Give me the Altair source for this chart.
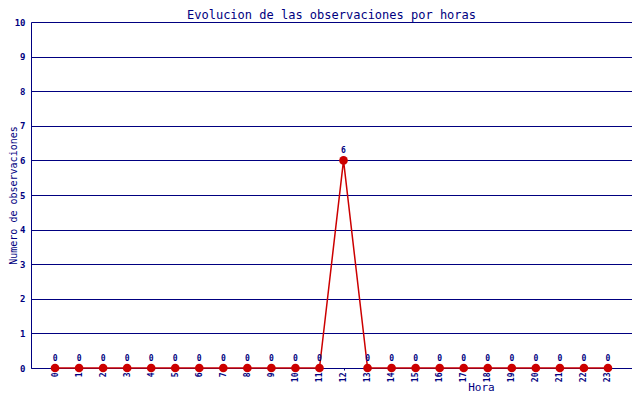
import altair as alt
import pandas as pd

hours = list(range(24))
counts = [0, 0, 0, 0, 0, 0, 0, 0, 0, 0, 0, 0, 6, 0, 0, 0, 0, 0, 0, 0, 0, 0, 0, 0]

df = pd.DataFrame({"hora": hours, "n": counts})

NAVY = "#000080"
RED = "#cc0000"
FONT = "DejaVu Sans Mono"

x = alt.X("hora:O", title="Hora",
          scale=alt.Scale(type="point", padding=1),
          axis=alt.Axis(labelAngle=270, labelFont=FONT, labelFontSize=8, labelFontWeight="bold",
                        labelColor=NAVY, domainColor=NAVY, tickColor=NAVY, tickSize=2,
                        labelPadding=2, titleFont=FONT, titleFontSize=11, titleFontWeight="normal",
                        titleColor=NAVY, titleX=450, titleY=22, titleAlign="center",
                        titleBaseline="alphabetic", grid=False))
y = alt.Y("n:Q", title="Numero de observaciones",
          scale=alt.Scale(domain=[0, 10], nice=False),
          axis=alt.Axis(values=list(range(11)), format="d", labelFont=FONT, labelFontSize=9,
                        labelFontWeight="bold", labelColor=NAVY, domainColor=NAVY, ticks=False,
                        labelPadding=6, gridColor=NAVY, gridOpacity=1, gridWidth=1,
                        titleFont=FONT, titleFontSize=10, titleFontWeight="normal",
                        titleColor=NAVY, titleX=-18, titleY=173, titleAlign="center",
                        titleBaseline="middle", titleAngle=270))

base = alt.Chart(df).encode(x=x, y=y)

line = base.mark_line(color=RED, strokeWidth=1.5)
pts = base.mark_circle(color=RED, size=75, opacity=1)
labels = base.mark_text(dy=-9, font=FONT, fontSize=8, fontWeight="bold", color=NAVY).encode(
    text=alt.Text("n:Q", format="d"))

chart = (line + pts + labels).properties(
    width=601, height=346,
    autosize=alt.AutoSizeParams(type="none"),
    padding={"left": 23, "top": 14, "right": 0, "bottom": 24},
    title=alt.TitleParams("Evolucion de las observaciones por horas", font=FONT, fontSize=12,
                          fontWeight="normal", color=NAVY, anchor="middle", offset=0,
                          baseline="alphabetic", dy=13),
).configure_view(stroke=NAVY, strokeWidth=1).configure(background="white")

chart.save("out.html", embed_options={"renderer": "svg", "actions": False})
